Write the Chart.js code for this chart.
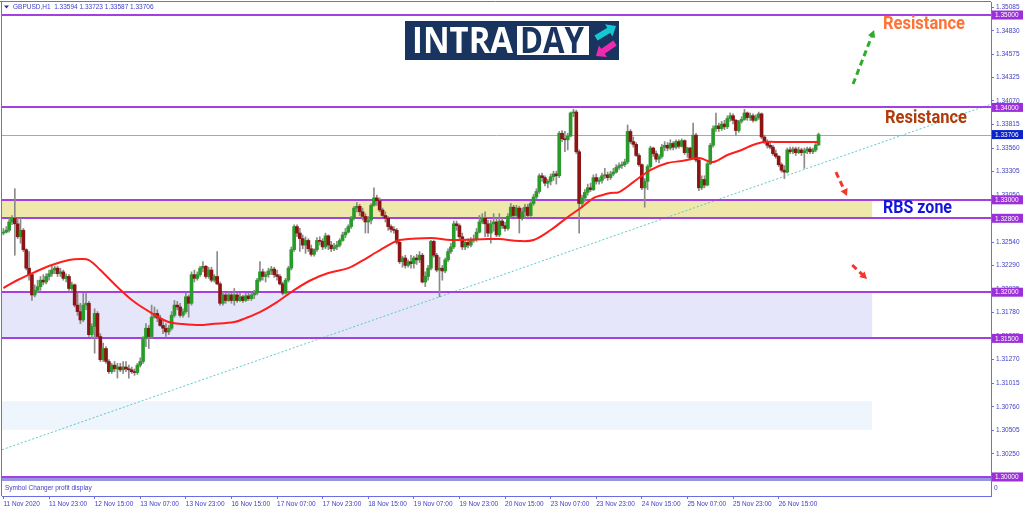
<!DOCTYPE html>
<html>
<head>
<meta charset="utf-8">
<script src="https://cdn.jsdelivr.net/npm/chart.js@4.4.1/dist/chart.umd.min.js"></script>
<style>
html,body{margin:0;padding:0;background:#ffffff;overflow:hidden;}
canvas{display:block;}
</style>
</head>
<body>
<canvas id="chart" width="1024" height="511"></canvas>
<script>
// ---------------- DATA ----------------
const symbolName = "GBPUSD,H1";
const timeLabels = ["11 Nov 2020","11 Nov 23:00","12 Nov 15:00","13 Nov 07:00","13 Nov 23:00","16 Nov 15:00","17 Nov 07:00","17 Nov 23:00","18 Nov 15:00","19 Nov 07:00","19 Nov 23:00","20 Nov 15:00","23 Nov 07:00","23 Nov 23:00","24 Nov 15:00","25 Nov 07:00","25 Nov 23:00","26 Nov 15:00"];
const priceTicks = [1.35085,1.34830,1.34575,1.34325,1.34070,1.33815,1.33560,1.33305,1.33050,1.32795,1.32540,1.32290,1.32035,1.31780,1.31525,1.31270,1.31015,1.30760,1.30505,1.30250];

const open = [
1.3264,1.3265,1.3267,1.3276,1.3280,1.3274,1.3260,1.3267,1.3246,1.3226,
1.3219,1.3197,1.3202,1.3206,1.3213,1.3211,1.3217,1.3220,1.3224,1.3226,
1.3220,1.3222,1.3215,1.3217,1.3204,1.3208,1.3186,1.3179,1.3170,1.3186,
1.3188,1.3154,1.3163,1.3177,1.3152,1.3127,1.3139,1.3125,1.3114,1.3121,
1.3117,1.3119,1.3116,1.3119,1.3117,1.3116,1.3114,1.3113,1.3121,1.3125,
1.3150,1.3161,1.3152,1.3173,1.3177,1.3172,1.3164,1.3161,1.3157,1.3161,
1.3175,1.3186,1.3184,1.3175,1.3179,1.3195,1.3188,1.3219,1.3215,1.3219,
1.3226,1.3228,1.3217,1.3224,1.3213,1.3217,1.3209,1.3188,1.3197,1.3191,
1.3197,1.3191,1.3197,1.3191,1.3195,1.3191,1.3196,1.3193,1.3197,1.3199,
1.3213,1.3222,1.3217,1.3219,1.3223,1.3225,1.3219,1.3217,1.3209,1.3199,
1.3213,1.3226,1.3246,1.3271,1.3264,1.3258,1.3251,1.3256,1.3247,1.3241,
1.3246,1.3256,1.3255,1.3249,1.3261,1.3251,1.3247,1.3249,1.3251,1.3256,
1.3262,1.3265,1.3271,1.3280,1.3291,1.3293,1.3287,1.3282,1.3276,1.3278,
1.3294,1.3302,1.3299,1.3289,1.3283,1.3280,1.3271,1.3268,1.3267,1.3254,
1.3233,1.3237,1.3229,1.3233,1.3231,1.3237,1.3235,1.3240,1.3211,1.3217,
1.3226,1.3255,1.3240,1.3224,1.3226,1.3223,1.3235,1.3244,1.3249,1.3274,
1.3272,1.3260,1.3249,1.3254,1.3251,1.3256,1.3257,1.3265,1.3276,1.3280,
1.3274,1.3264,1.3274,1.3276,1.3262,1.3277,1.3272,1.3269,1.3282,1.3292,
1.3283,1.3291,1.3280,1.3287,1.3292,1.3283,1.3296,1.3303,1.3309,1.3326,
1.3324,1.3318,1.3320,1.3325,1.3328,1.3326,1.3372,1.3366,1.3365,1.3369,
1.3394,1.3395,1.3352,1.3296,1.3302,1.3308,1.3313,1.3311,1.3324,1.3320,
1.3321,1.3326,1.3327,1.3324,1.3328,1.3330,1.3335,1.3337,1.3338,1.3341,
1.3374,1.3363,1.3360,1.3348,1.3338,1.3313,1.3320,1.3336,1.3356,1.3350,
1.3344,1.3347,1.3357,1.3359,1.3356,1.3361,1.3357,1.3363,1.3358,1.3364,
1.3351,1.3356,1.3345,1.3370,1.3343,1.3313,1.3322,1.3316,1.3339,1.3359,
1.3377,1.3380,1.3377,1.3382,1.3379,1.3388,1.3391,1.3386,1.3375,1.3385,
1.3387,1.3394,1.3389,1.3391,1.3386,1.3389,1.3393,1.3368,1.3362,1.3359,
1.3357,1.3350,1.3347,1.3338,1.3332,1.3330,1.3354,1.3352,1.3355,1.3351,
1.3354,1.3351,1.3353,1.3355,1.3352,1.3354,1.33594];

const high = [
1.3269,1.3271,1.3280,1.3283,1.3312,1.3280,1.3280,1.3269,1.3247,1.3244,
1.3220,1.3208,1.3213,1.3217,1.3219,1.3220,1.3224,1.3228,1.3228,1.3228,
1.3226,1.3224,1.3220,1.3219,1.3211,1.3209,1.3199,1.3188,1.3199,1.3199,
1.3190,1.3166,1.3182,1.3179,1.3155,1.3145,1.3141,1.3127,1.3123,1.3125,
1.3123,1.3123,1.3125,1.3125,1.3121,1.3119,1.3117,1.3123,1.3129,1.3152,
1.3166,1.3164,1.3186,1.3184,1.3181,1.3175,1.3170,1.3166,1.3164,1.3179,
1.3191,1.3190,1.3188,1.3182,1.3199,1.3197,1.3222,1.3224,1.3222,1.3228,
1.3233,1.3229,1.3227,1.3227,1.3219,1.3244,1.3211,1.3200,1.3199,1.3200,
1.3199,1.3204,1.3199,1.3199,1.3197,1.3199,1.3199,1.3199,1.3202,1.3215,
1.3233,1.3225,1.3222,1.3226,1.3228,1.3227,1.3224,1.3219,1.3211,1.3215,
1.3228,1.3249,1.3273,1.3273,1.3269,1.3262,1.3260,1.3258,1.3251,1.3247,
1.3259,1.3260,1.3258,1.3264,1.3262,1.3255,1.3253,1.3255,1.3258,1.3265,
1.3269,1.3273,1.3282,1.3293,1.3297,1.3295,1.3291,1.3285,1.3282,1.3296,
1.3313,1.3305,1.3302,1.3291,1.3287,1.3282,1.3273,1.3271,1.3269,1.3255,
1.3239,1.3240,1.3235,1.3240,1.3239,1.3241,1.3244,1.3242,1.3222,1.3229,
1.3256,1.3256,1.3242,1.3238,1.3229,1.3237,1.3247,1.3253,1.3277,1.3277,
1.3274,1.3264,1.3257,1.3258,1.3259,1.3262,1.3269,1.3283,1.3285,1.3287,
1.3278,1.3278,1.3285,1.3280,1.3285,1.3280,1.3276,1.3285,1.3296,1.3294,
1.3294,1.3293,1.3291,1.3295,1.3295,1.3298,1.3306,1.3312,1.3328,1.3329,
1.3326,1.3322,1.3328,1.3331,1.3331,1.3374,1.3375,1.3374,1.3372,1.3395,
1.3398,1.3397,1.3354,1.3305,1.3311,1.3317,1.3318,1.3327,1.3328,1.3324,
1.3329,1.3334,1.3330,1.3331,1.3334,1.3338,1.3340,1.3341,1.3344,1.3381,
1.3376,1.3368,1.3362,1.3350,1.3339,1.3323,1.3338,1.3358,1.3357,1.3353,
1.3349,1.3360,1.3363,1.3362,1.3365,1.3363,1.3365,1.3365,1.3366,1.3365,
1.3357,1.3357,1.3383,1.3372,1.3345,1.3326,1.3326,1.3342,1.3361,1.3380,
1.3394,1.3383,1.3385,1.3386,1.3391,1.3394,1.3393,1.3387,1.3386,1.3390,
1.3398,1.3395,1.3394,1.3393,1.3392,1.3395,1.3394,1.3370,1.3365,1.3363,
1.3359,1.3354,1.3348,1.3340,1.3337,1.3356,1.3357,1.3357,1.3357,1.3357,
1.3356,1.3356,1.3357,1.3357,1.3356,1.3361,1.33723];

const low = [
1.3262,1.3264,1.3265,1.3273,1.3240,1.3258,1.3253,1.3244,1.3224,1.3213,
1.3191,1.3195,1.3200,1.3202,1.3208,1.3209,1.3213,1.3217,1.3220,1.3217,
1.3217,1.3213,1.3211,1.3202,1.3202,1.3184,1.3175,1.3166,1.3168,1.3181,
1.3152,1.3150,1.3134,1.3150,1.3125,1.3125,1.3123,1.3112,1.3112,1.3114,
1.3107,1.3114,1.3112,1.3114,1.3107,1.3112,1.3110,1.3111,1.3119,1.3123,
1.3141,1.3139,1.3150,1.3172,1.3168,1.3163,1.3155,1.3152,1.3154,1.3159,
1.3173,1.3181,1.3173,1.3173,1.3177,1.3173,1.3186,1.3211,1.3213,1.3217,
1.3222,1.3215,1.3215,1.3211,1.3211,1.3208,1.3186,1.3186,1.3188,1.3190,
1.3188,1.3186,1.3189,1.3190,1.3189,1.3190,1.3191,1.3191,1.3193,1.3197,
1.3211,1.3213,1.3211,1.3216,1.3219,1.3216,1.3213,1.3208,1.3197,1.3198,
1.3211,1.3224,1.3244,1.3260,1.3244,1.3247,1.3242,1.3244,1.3239,1.3239,
1.3244,1.3251,1.3246,1.3247,1.3246,1.3244,1.3245,1.3246,1.3249,1.3255,
1.3259,1.3264,1.3269,1.3278,1.3287,1.3283,1.3278,1.3264,1.3264,1.3274,
1.3293,1.3294,1.3287,1.3282,1.3276,1.3267,1.3265,1.3264,1.3252,1.3231,
1.3227,1.3226,1.3227,1.3226,1.3226,1.3230,1.3232,1.3210,1.3206,1.3213,
1.3224,1.3238,1.3222,1.3195,1.3213,1.3221,1.3233,1.3242,1.3247,1.3267,
1.3258,1.3246,1.3246,1.3248,1.3249,1.3254,1.3255,1.3264,1.3274,1.3260,
1.3260,1.3253,1.3266,1.3260,1.3260,1.3269,1.3266,1.3267,1.3280,1.3281,
1.3280,1.3264,1.3278,1.3280,1.3281,1.3282,1.3294,1.3301,1.3307,1.3320,
1.3315,1.3313,1.3316,1.3321,1.3317,1.3324,1.3363,1.3352,1.3354,1.3368,
1.3390,1.3350,1.3264,1.3292,1.3298,1.3305,1.3309,1.3310,1.3317,1.3317,
1.3318,1.3323,1.3321,1.3322,1.3326,1.3329,1.3333,1.3334,1.3336,1.3339,
1.3361,1.3357,1.3347,1.3336,1.3311,1.3292,1.3311,1.3334,1.3347,1.3341,
1.3340,1.3345,1.3353,1.3353,1.3354,1.3354,1.3355,1.3356,1.3357,1.3349,
1.3346,1.3343,1.3344,1.3341,1.3310,1.3311,1.3313,1.3315,1.3338,1.3357,
1.3374,1.3374,1.3375,1.3376,1.3377,1.3385,1.3382,1.3370,1.3373,1.3383,
1.3386,1.3386,1.3386,1.3384,1.3385,1.3387,1.3366,1.3361,1.3356,1.3355,
1.3348,1.3345,1.3336,1.3330,1.3323,1.3329,1.3350,1.3350,1.3348,1.3350,
1.3348,1.3334,1.3350,1.3350,1.3350,1.3352,1.33587];

const close = [
1.3265,1.3267,1.3276,1.3280,1.3274,1.3260,1.3267,1.3246,1.3226,1.3219,
1.3197,1.3202,1.3206,1.3213,1.3211,1.3217,1.3220,1.3224,1.3226,1.3220,
1.3222,1.3215,1.3217,1.3204,1.3208,1.3186,1.3179,1.3170,1.3186,1.3188,
1.3154,1.3163,1.3177,1.3152,1.3127,1.3139,1.3125,1.3114,1.3121,1.3117,
1.3119,1.3116,1.3119,1.3117,1.3116,1.3114,1.3113,1.3121,1.3125,1.3150,
1.3161,1.3152,1.3173,1.3177,1.3172,1.3164,1.3161,1.3157,1.3161,1.3175,
1.3186,1.3184,1.3175,1.3179,1.3195,1.3188,1.3219,1.3215,1.3219,1.3226,
1.3228,1.3217,1.3224,1.3213,1.3217,1.3209,1.3188,1.3197,1.3191,1.3197,
1.3191,1.3197,1.3191,1.3195,1.3191,1.3196,1.3193,1.3197,1.3199,1.3213,
1.3222,1.3217,1.3219,1.3223,1.3225,1.3219,1.3217,1.3209,1.3199,1.3213,
1.3226,1.3246,1.3271,1.3264,1.3258,1.3251,1.3256,1.3247,1.3241,1.3246,
1.3256,1.3255,1.3249,1.3261,1.3251,1.3247,1.3249,1.3251,1.3256,1.3262,
1.3265,1.3271,1.3280,1.3291,1.3293,1.3287,1.3282,1.3276,1.3278,1.3294,
1.3302,1.3299,1.3289,1.3283,1.3280,1.3271,1.3268,1.3267,1.3254,1.3233,
1.3237,1.3229,1.3233,1.3231,1.3237,1.3235,1.3240,1.3211,1.3217,1.3226,
1.3255,1.3240,1.3224,1.3226,1.3223,1.3235,1.3244,1.3249,1.3274,1.3272,
1.3260,1.3249,1.3254,1.3251,1.3256,1.3257,1.3265,1.3276,1.3280,1.3274,
1.3264,1.3274,1.3276,1.3262,1.3277,1.3272,1.3269,1.3282,1.3292,1.3283,
1.3291,1.3280,1.3287,1.3292,1.3283,1.3296,1.3303,1.3309,1.3326,1.3324,
1.3318,1.3320,1.3325,1.3328,1.3326,1.3372,1.3366,1.3365,1.3369,1.3394,
1.3395,1.3352,1.3296,1.3302,1.3308,1.3313,1.3311,1.3324,1.3320,1.3321,
1.3326,1.3327,1.3324,1.3328,1.3330,1.3335,1.3337,1.3338,1.3341,1.3374,
1.3363,1.3360,1.3348,1.3338,1.3313,1.3320,1.3336,1.3356,1.3350,1.3344,
1.3347,1.3357,1.3359,1.3356,1.3361,1.3357,1.3363,1.3358,1.3364,1.3351,
1.3356,1.3345,1.3370,1.3343,1.3313,1.3322,1.3316,1.3339,1.3359,1.3377,
1.3380,1.3377,1.3382,1.3379,1.3388,1.3391,1.3386,1.3375,1.3385,1.3387,
1.3394,1.3389,1.3391,1.3386,1.3389,1.3393,1.3368,1.3362,1.3359,1.3357,
1.3350,1.3347,1.3338,1.3332,1.3330,1.3354,1.3352,1.3355,1.3351,1.3354,
1.3351,1.3353,1.3355,1.3352,1.3354,1.33594,1.33706];

// moving average, read at sampled bars
const maBars = [0,5,11,17,23,27,30,34,40,46,52,58,63,69,73,81,85,90,96,102,108,114,121,125,131,137,139,150,157,170,174,181,186,192,198,203,207,210,213,216,221,227,233,238,244,249,254,259,263,267,273,280,286];
const maValues = [1.32045,1.32132,1.32218,1.32294,1.32348,1.32359,1.32348,1.32240,1.32056,1.31893,1.31774,1.31677,1.31655,1.31644,1.31655,1.31677,1.31720,1.31785,1.31893,1.32023,1.32132,1.32207,1.32261,1.32326,1.32435,1.32543,1.32565,1.32586,1.32565,1.32575,1.32575,1.32554,1.32565,1.32673,1.32813,1.32922,1.33019,1.33050,1.33073,1.33084,1.33192,1.33322,1.33398,1.33420,1.33452,1.33409,1.33485,1.33539,1.33593,1.33625,1.33625,1.33625,1.33625];

// horizontal levels, zones, trendline
const levels = [1.35000,1.34000,1.33000,1.32800,1.32000,1.31500,1.30000];
const lastPrice = 1.33706;
const rbsZone = [1.33000, 1.32800];
const supportZone = [1.32000, 1.31500];
const lowerZone = [1.30820, 1.30510];
const trendBars = [0, 346];
const trendPrices = [1.30300, 1.34030];
const greenArrow = [[298.1, 1.34253], [305.5, 1.34837]];
const redArrow1 = [[292.1, 1.33300], [296.0, 1.33041]];
const redArrow2 = [[297.8, 1.32294], [303.0, 1.32142]];

// ---------------- STYLE / BUILD ----------------
const TOTAL_SLOTS = 347;
const ZONE_END_BAR = 304.8;
const AXIS = '#6c6ce6';
const TXT = '#4141c6';
const LEVEL = '#a43fe2';
const FONT = '"Liberation Sans", Arial, sans-serif';
const BULL = '#2a9a2a';
const BEAR = '#8c1414';

const cats = [];
for (let i = 0; i < TOTAL_SLOTS; i++) cats.push(String(i));
const bodyData = open.map((o, i) => [o, close[i]]);
const wickData = low.map((l, i) => [l, high[i]]);
const bodyColors = open.map((o, i) => close[i] >= o ? BULL : BEAR);
const maData = new Array(TOTAL_SLOTS).fill(null);
maBars.forEach((b, k) => { maData[b] = maValues[k]; });

function drawArrow(ctx, x, y, pts, color, dashed) {
  const x1 = x.getPixelForValue(pts[0][0]), y1 = y.getPixelForValue(pts[0][1]);
  const x2 = x.getPixelForValue(pts[1][0]), y2 = y.getPixelForValue(pts[1][1]);
  const ang = Math.atan2(y2 - y1, x2 - x1);
  const hl = 8;
  ctx.save();
  ctx.strokeStyle = color; ctx.fillStyle = color; ctx.lineWidth = 3;
  if (dashed) ctx.setLineDash([6, 4]);
  ctx.beginPath(); ctx.moveTo(x1, y1);
  ctx.lineTo(x2 - Math.cos(ang) * hl * 0.8, y2 - Math.sin(ang) * hl * 0.8); ctx.stroke();
  ctx.setLineDash([]);
  ctx.beginPath();
  ctx.moveTo(x2, y2);
  ctx.lineTo(x2 - hl * Math.cos(ang - 0.5), y2 - hl * Math.sin(ang - 0.5));
  ctx.lineTo(x2 - hl * Math.cos(ang + 0.5), y2 - hl * Math.sin(ang + 0.5));
  ctx.closePath(); ctx.fill();
  ctx.restore();
}

function solidArrow(ctx, x1, y1, x2, y2, color, w) {
  const ang = Math.atan2(y2 - y1, x2 - x1);
  const hl = 11;
  ctx.save();
  ctx.strokeStyle = color; ctx.fillStyle = color; ctx.lineWidth = w; ctx.lineCap = 'butt';
  ctx.beginPath(); ctx.moveTo(x1, y1);
  ctx.lineTo(x2 - Math.cos(ang) * hl * 0.7, y2 - Math.sin(ang) * hl * 0.7); ctx.stroke();
  ctx.beginPath(); ctx.moveTo(x2, y2);
  ctx.lineTo(x2 - hl * Math.cos(ang - 0.7), y2 - hl * Math.sin(ang - 0.7));
  ctx.lineTo(x2 - hl * Math.cos(ang + 0.7), y2 - hl * Math.sin(ang + 0.7));
  ctx.closePath(); ctx.fill();
  ctx.restore();
}

const decor = {
  id: 'decor',
  beforeDatasetsDraw(chart) {
    const { ctx, chartArea: ca, scales: { x, y } } = chart;
    ctx.save();
    ctx.beginPath(); ctx.rect(ca.left, ca.top, ca.right - ca.left, ca.bottom - ca.top); ctx.clip();
    const xEnd = x.getPixelForValue(ZONE_END_BAR);
    [[rbsZone, '#eee8aa'], [supportZone, '#e6e6fa'], [lowerZone, '#eef5fc']].forEach(([z, c]) => {
      const y1 = y.getPixelForValue(z[0]), y2 = y.getPixelForValue(z[1]);
      ctx.fillStyle = c;
      ctx.fillRect(ca.left, y1, xEnd - ca.left, y2 - y1);
    });
    // current price line
    const yl = Math.round(y.getPixelForValue(lastPrice)) + 0.5;
    ctx.strokeStyle = '#a9a9a9'; ctx.lineWidth = 1;
    ctx.beginPath(); ctx.moveTo(ca.left, yl); ctx.lineTo(ca.right, yl); ctx.stroke();
    // trendline
    const tx1 = x.getPixelForValue(trendBars[0]), ty1 = y.getPixelForValue(trendPrices[0]);
    const tx2 = x.getPixelForValue(trendBars[1]), ty2 = y.getPixelForValue(trendPrices[1]);
    const sl = (ty2 - ty1) / (tx2 - tx1);
    ctx.strokeStyle = '#5cc8c8'; ctx.lineWidth = 1; ctx.setLineDash([2, 2]);
    ctx.beginPath();
    ctx.moveTo(ca.left, ty1 + (ca.left - tx1) * sl);
    ctx.lineTo(ca.right, ty1 + (ca.right - tx1) * sl);
    ctx.stroke();
    ctx.setLineDash([]);
    // levels
    ctx.strokeStyle = LEVEL; ctx.lineWidth = 2;
    levels.forEach(v => {
      const yy = Math.round(y.getPixelForValue(v));
      ctx.beginPath(); ctx.moveTo(ca.left, yy); ctx.lineTo(ca.right, yy); ctx.stroke();
    });
    ctx.restore();
  },
  afterDraw(chart) {
    const { ctx, chartArea: ca, scales: { x, y } } = chart;
    ctx.save();
    // sub window
    ctx.fillStyle = '#ffffff';
    ctx.fillRect(ca.left, 481, ca.right - ca.left, ca.bottom - 481);
    ctx.fillStyle = '#9696e2';
    ctx.fillRect(ca.left, 478, ca.right - ca.left, 3);
    ctx.font = '6.5px ' + FONT; ctx.fillStyle = TXT; ctx.textBaseline = 'middle'; ctx.textAlign = 'left';
    ctx.fillText('Symbol Changer profit display', 5, 488);
    ctx.fillText('0', 994, 488);
    // frame
    ctx.strokeStyle = AXIS; ctx.lineWidth = 1;
    ctx.beginPath(); ctx.moveTo(0, 1.5); ctx.lineTo(ca.right, 1.5); ctx.stroke();
    ctx.beginPath(); ctx.moveTo(1.5, 1); ctx.lineTo(1.5, ca.bottom); ctx.stroke();
    // header
    ctx.fillStyle = '#2a2ab8';
    ctx.beginPath(); ctx.moveTo(4, 5.5); ctx.lineTo(9, 5.5); ctx.lineTo(6.5, 8.5); ctx.closePath(); ctx.fill();
    ctx.fillStyle = TXT; ctx.font = '6.5px ' + FONT;
    const n = close.length - 1;
    ctx.fillText(symbolName + '  ' + open[n].toFixed(5) + ' ' + high[n].toFixed(5) + ' ' + low[n].toFixed(5) + ' ' + close[n].toFixed(5), 13, 7);
    // price boxes
    function box(v, bg) {
      const yy = y.getPixelForValue(v);
      ctx.fillStyle = bg; ctx.fillRect(ca.right + 1, yy - 4.5, 31, 9);
      ctx.fillStyle = '#ffffff'; ctx.fillText(v.toFixed(5), ca.right + 4, yy + 0.5);
    }
    levels.forEach(v => box(v, '#9b30d8'));
    box(lastPrice, '#0b22c8');
    // annotation texts
    ctx.font = 'bold 18px Roboto, "Liberation Sans", sans-serif';
    ctx.fillStyle = '#ff7236'; ctx.fillText('Resistance', 883, 24.5, 82);
    ctx.fillStyle = '#b03c0c'; ctx.fillText('Resistance', 885, 118, 82);
    ctx.fillStyle = '#1414dc'; ctx.fillText('RBS zone', 883, 208.5, 69);
    // arrows
    drawArrow(ctx, x, y, greenArrow, '#2faa2f', true);
    drawArrow(ctx, x, y, redArrow1, '#f5372b', true);
    drawArrow(ctx, x, y, redArrow2, '#f5372b', true);
    // logo
    ctx.fillStyle = '#19345e'; ctx.fillRect(405, 21, 214, 39);
    ctx.fillStyle = '#ffffff'; ctx.fillRect(517, 26, 72, 29);
    ctx.font = 'bold 36px "Open Sans", "Liberation Sans", sans-serif'; ctx.textBaseline = 'alphabetic';
    ctx.fillText('INTRA', 412, 53, 101);
    ctx.fillStyle = '#19345e'; ctx.fillText('DAY', 520, 53, 64);
    solidArrow(ctx, 596, 38, 616, 26, '#14c8d2', 6);
    solidArrow(ctx, 615, 43, 596, 56, '#f02ab0', 6);
    ctx.restore();
  }
};

new Chart(document.getElementById('chart'), {
  type: 'bar',
  data: {
    labels: cats,
    datasets: [
      { type: 'line', data: maData, borderColor: '#ff1e1e', borderWidth: 2, pointRadius: 0, spanGaps: true, tension: 0.35, order: 0 },
      { data: bodyData, backgroundColor: bodyColors, barThickness: 3, grouped: false, borderWidth: 0, minBarLength: 1, order: 1 },
      { data: wickData, backgroundColor: '#8a8a8a', barThickness: 1, grouped: false, borderWidth: 0, order: 2 }
    ]
  },
  options: {
    responsive: false,
    animation: false,
    devicePixelRatio: 1,
    layout: { padding: { top: 2, left: 2, right: 0, bottom: 0 } },
    plugins: { legend: { display: false }, tooltip: { enabled: false } },
    scales: {
      x: {
        type: 'category', offset: true,
        grid: { display: true, drawOnChartArea: false, drawTicks: true, tickLength: 3, color: AXIS, offset: false },
        border: { display: true, color: AXIS },
        ticks: { autoSkip: false, maxRotation: 0, minRotation: 0, align: 'start', padding: 1, color: TXT,
          font: { family: FONT, size: 6.5 }, callback: (v) => timeLabels[v / 16] },
        afterBuildTicks: (s) => { s.ticks = s.ticks.filter(t => t.value % 16 === 0 && t.value / 16 < timeLabels.length); },
        afterFit: (s) => { s.height = 15; s.paddingLeft = 0; s.paddingRight = 0; }
      },
      y: {
        position: 'right', min: 1.29794, max: 1.35141,
        grid: { display: true, drawOnChartArea: false, drawTicks: true, tickLength: 3, color: AXIS },
        border: { display: true, color: AXIS },
        ticks: { autoSkip: false, padding: 2, color: TXT, font: { family: FONT, size: 6.5 }, callback: (v) => Number(v).toFixed(5) },
        afterBuildTicks: (s) => { s.ticks = priceTicks.map(v => ({ value: v })); },
        afterFit: (s) => { s.width = 33; s.paddingTop = 0; s.paddingBottom = 0; }
      }
    }
  },
  plugins: [decor]
});
</script>
</body>
</html>
